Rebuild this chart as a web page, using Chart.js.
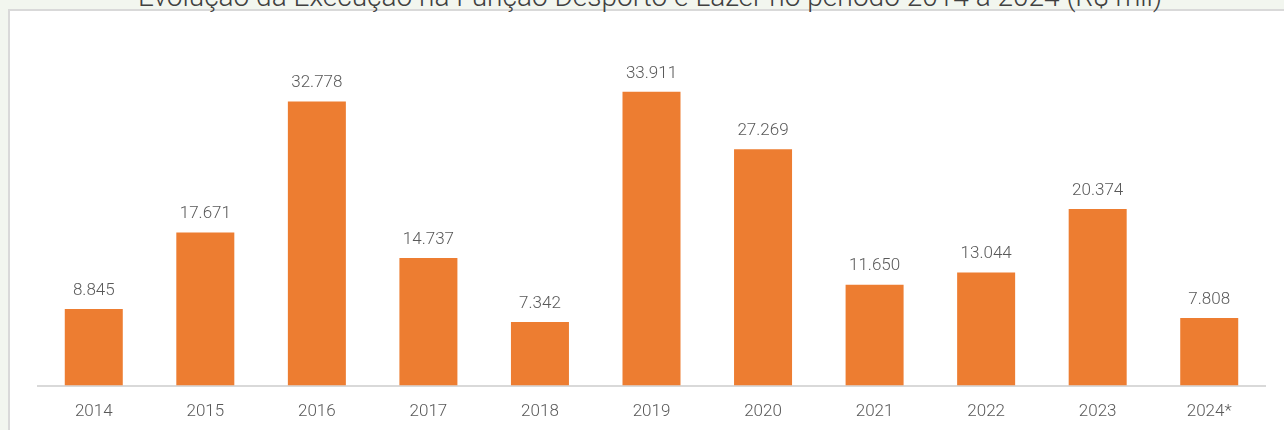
<!DOCTYPE html>
<html><head><meta charset="utf-8">
<script src="https://cdn.jsdelivr.net/npm/chart.js@4/dist/chart.umd.min.js"></script>
<style>
html,body{margin:0;padding:0;width:1284px;height:430px;overflow:hidden;background:#f2f6ef;}
#box{position:absolute;left:8px;top:9px;width:1276px;height:421px;background:#fff;border-left:2px solid #d9d9d9;border-top:2px solid #d9d9d9;box-sizing:border-box;}
#title{position:absolute;left:0;width:1300px;top:-19px;line-height:32px;text-align:center;font-family:Roboto,"Open Sans",sans-serif;font-weight:300;font-size:28px;color:#404040;white-space:nowrap;}
canvas{position:absolute;left:0;top:0;}
</style></head>
<body>
<div id="box"></div>
<div id="title">Evolução da Execução na Função Desporto e Lazer no período 2014 a 2024 (R$ mil)</div>
<canvas id="c" width="1284" height="430"></canvas>
<script>
const categories = ["2014","2015","2016","2017","2018","2019","2020","2021","2022","2023","2024*"];
const values = [8845, 17671, 32778, 14737, 7342, 33911, 27269, 11650, 13044, 20374, 7808];

const labelPlugin = {
  id: 'valueLabels',
  afterDatasetsDraw(chart) {
    const ctx = chart.ctx;
    const meta = chart.getDatasetMeta(0);
    ctx.save();
    ctx.font = '300 17px Roboto, sans-serif';
    ctx.fillStyle = '#595959';
    ctx.textAlign = 'center';
    ctx.textBaseline = 'bottom';
    meta.data.forEach((bar, i) => {
      const v = chart.data.datasets[0].data[i];
      ctx.fillText(v.toLocaleString('pt-BR'), bar.x, bar.y - 10);
    });
    ctx.restore();
  }
};

new Chart(document.getElementById('c'), {
  type: 'bar',
  data: {
    labels: categories,
    datasets: [{
      data: values,
      backgroundColor: '#ED7D31',
      barPercentage: 0.52,
      categoryPercentage: 1.0
    }]
  },
  options: {
    responsive: false,
    animation: false,
    layout: { padding: { left: 38, right: 19, top: 39, bottom: 0 } },
    plugins: { legend: { display: false }, tooltip: { enabled: false } },
    scales: {
      x: {
        grid: { display: false },
        border: { display: true, color: '#d9d9d9', width: 2 },
        ticks: { color: '#595959', font: { family: 'Roboto', weight: 300, size: 17 }, padding: 8 }
      },
      y: { display: false, min: 0, max: 40000 }
    }
  },
  plugins: [labelPlugin]
});
</script>
</body></html>
